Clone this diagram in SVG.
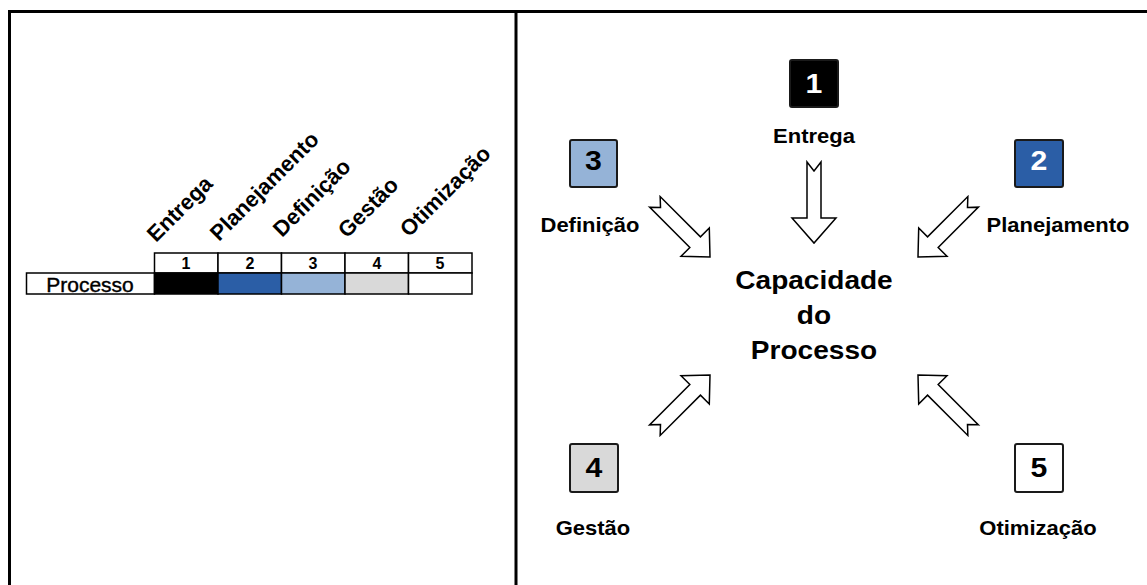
<svg xmlns="http://www.w3.org/2000/svg" width="1147" height="585" viewBox="0 0 1147 585">
  <style>
    text { font-family: "Liberation Sans", Arial, sans-serif; fill: #000; }
    .frame { stroke: #000; stroke-width: 3; fill: none; }
    .cell { stroke: #000; stroke-width: 1.5; }
    .hdr { font-size: 16px; font-weight: bold; text-anchor: middle; }
    .rot { font-size: 22px; font-weight: bold; }
    .box { stroke: #1a1a1a; stroke-width: 2; }
    .num { font-size: 27px; font-weight: bold; text-anchor: middle; }
    .lbl { font-size: 20px; font-weight: bold; text-anchor: middle; }
    .center { font-size: 25.5px; font-weight: bold; text-anchor: middle; }
    .arrow { fill: #fff; stroke: #000; stroke-width: 1.5; stroke-linejoin: miter; }
  </style>
  <defs>
    <!-- block arrows, tip at the origin, pointing down (+y) -->
    <path id="arrow-straight" d="M-7,-81 L0,-72 L7,-81 L7,-25 L22,-25 L0,0 L-22,-25 L-7,-25 Z"/>
    <path id="arrow-diag" d="M-7.5,-78 L0,-70 L7.5,-78 L7.5,-21 L20,-21 L0,0 L-20,-21 L-7.5,-21 Z"/>
  </defs>

  <rect width="1147" height="585" fill="#fff"/>

  <!-- outer frame and panel divider -->
  <g id="frame">
    <path class="frame" d="M9.5,585 L9.5,11.5 L1147,11.5"/>
    <path class="frame" d="M516,11.5 L516,585"/>
  </g>

  <!-- left panel: maturity scale table -->
  <g id="scale-table">
    <g id="scale-headings">
      <text class="rot" transform="translate(156,243) rotate(-45)">Entrega</text>
      <text class="rot" transform="translate(219,242) rotate(-45)">Planejamento</text>
      <text class="rot" transform="translate(282,238) rotate(-45)">Definição</text>
      <text class="rot" transform="translate(347,239) rotate(-45)">Gestão</text>
      <text class="rot" transform="translate(409,238) rotate(-45)">Otimização</text>
    </g>
    <g id="scale-header-row">
      <rect class="cell" x="154.5" y="253" width="63.5" height="20" fill="#fff"/>
      <rect class="cell" x="218" y="253" width="63.5" height="20" fill="#fff"/>
      <rect class="cell" x="281.5" y="253" width="63.5" height="20" fill="#fff"/>
      <rect class="cell" x="345" y="253" width="63.5" height="20" fill="#fff"/>
      <rect class="cell" x="408.5" y="253" width="63.5" height="20" fill="#fff"/>
      <text class="hdr" x="186" y="269">1</text>
      <text class="hdr" x="250" y="269">2</text>
      <text class="hdr" x="313" y="269">3</text>
      <text class="hdr" x="377" y="269">4</text>
      <text class="hdr" x="440" y="269">5</text>
    </g>
    <g id="scale-process-row">
      <rect class="cell" x="26.5" y="273" width="128" height="21" fill="#fff"/>
      <text x="90" y="292" font-size="21" text-anchor="middle" stroke="#000" stroke-width="0.4">Processo</text>
      <rect class="cell" x="154.5" y="273" width="63.5" height="21" fill="#000"/>
      <rect class="cell" x="218" y="273" width="63.5" height="21" fill="#2b5ea6"/>
      <rect class="cell" x="281.5" y="273" width="63.5" height="21" fill="#95b3d7"/>
      <rect class="cell" x="345" y="273" width="63.5" height="21" fill="#d9d9d9"/>
      <rect class="cell" x="408.5" y="273" width="63.5" height="21" fill="#fff"/>
    </g>
  </g>

  <!-- right panel: levels converging on process capability -->
  <g id="capacidade">
    <text class="center" transform="translate(814,289) scale(1.1,1)">Capacidade</text>
    <text class="center" transform="translate(814,324) scale(1.1,1)">do</text>
    <text class="center" transform="translate(814,359) scale(1.1,1)">Processo</text>
  </g>

  <g id="level-1">
    <rect class="box" x="790" y="60" width="48" height="47" rx="2" fill="#000"/>
    <text class="num" transform="translate(814,93) scale(1.12,1)" style="fill:#fff">1</text>
    <text class="lbl" transform="translate(814,143) scale(1.1,1)">Entrega</text>
  </g>
  <g id="level-2">
    <rect class="box" x="1015" y="140" width="48" height="47" rx="2" fill="#2b5ea6"/>
    <text class="num" transform="translate(1039,170) scale(1.12,1)" style="fill:#fff">2</text>
    <text class="lbl" transform="translate(1058,232) scale(1.1,1)">Planejamento</text>
  </g>
  <g id="level-3">
    <rect class="box" x="570" y="140" width="47" height="47" rx="2" fill="#95b3d7"/>
    <text class="num" transform="translate(593.5,170) scale(1.12,1)">3</text>
    <text class="lbl" transform="translate(590,232) scale(1.1,1)">Definição</text>
  </g>
  <g id="level-4">
    <rect class="box" x="570" y="444" width="48" height="48" rx="2" fill="#d9d9d9"/>
    <text class="num" transform="translate(594,477) scale(1.12,1)">4</text>
    <text class="lbl" transform="translate(593,535) scale(1.1,1)">Gestão</text>
  </g>
  <g id="level-5">
    <rect class="box" x="1015" y="444" width="48" height="48" rx="2" fill="#fff"/>
    <text class="num" transform="translate(1039,477) scale(1.12,1)">5</text>
    <text class="lbl" transform="translate(1038,535) scale(1.1,1)">Otimização</text>
  </g>

  <g id="connectors">
    <use href="#arrow-straight" class="arrow" transform="translate(814,243)"/>
    <use href="#arrow-diag" class="arrow" transform="translate(710,257) rotate(-45)"/>
    <use href="#arrow-diag" class="arrow" transform="translate(918,257) rotate(45)"/>
    <use href="#arrow-diag" class="arrow" transform="translate(710,375) rotate(-135)"/>
    <use href="#arrow-diag" class="arrow" transform="translate(918,375) rotate(135)"/>
  </g>
</svg>
